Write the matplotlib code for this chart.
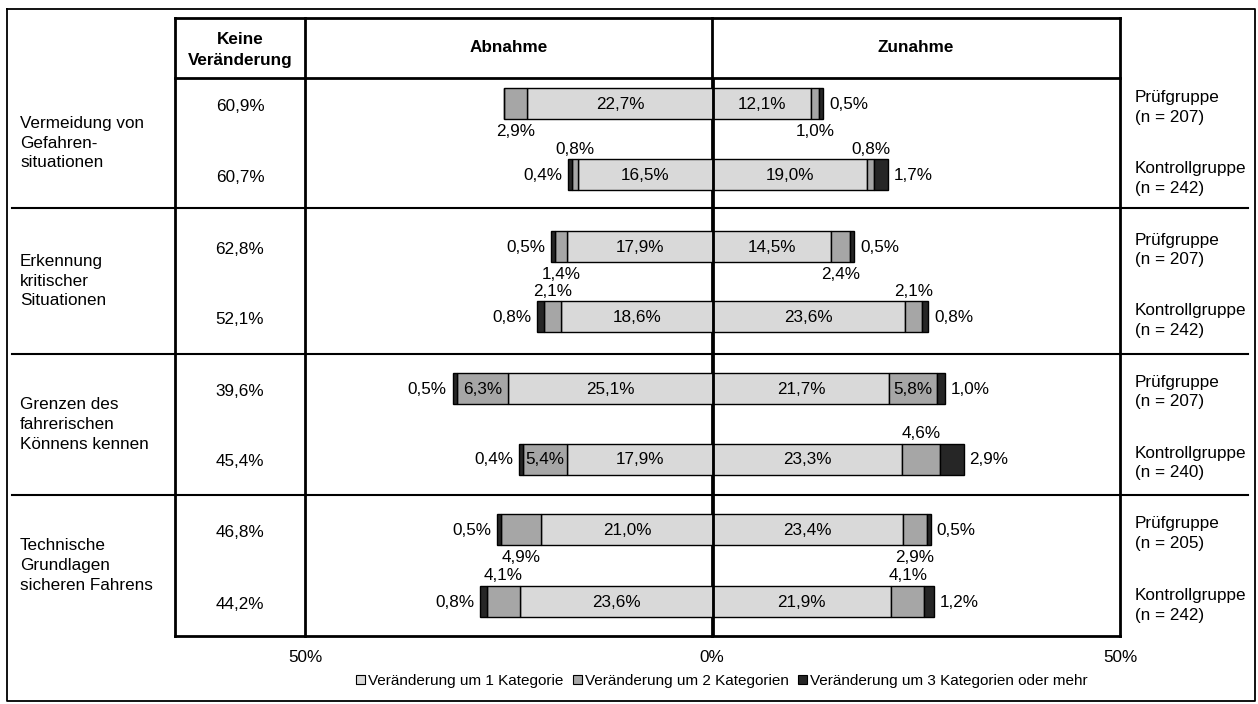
import numpy as np
import matplotlib
matplotlib.use('Agg')
import matplotlib.pyplot as plt
from matplotlib.patches import Patch

plt.rcParams['font.family'] = ['Liberation Sans', 'DejaVu Sans']

# data
topics = ['Vermeidung von\nGefahren-\nsituationen',
          'Erkennung\nkritischer\nSituationen',
          'Grenzen des\nfahrerischen\nKönnens kennen',
          'Technische\nGrundlagen\nsicheren Fahrens']
groups = ['Prüfgruppe\n(n = 207)', 'Kontrollgruppe\n(n = 242)',
          'Prüfgruppe\n(n = 207)', 'Kontrollgruppe\n(n = 242)',
          'Prüfgruppe\n(n = 207)', 'Kontrollgruppe\n(n = 240)',
          'Prüfgruppe\n(n = 205)', 'Kontrollgruppe\n(n = 242)']
keine = [60.9, 60.7, 62.8, 52.1, 39.6, 45.4, 46.8, 44.2]
# Abnahme (decrease) by 1, 2, 3+ categories
ab1 = [22.7, 16.5, 17.9, 18.6, 25.1, 17.9, 21.0, 23.6]
ab2 = [2.9, 0.8, 1.4, 2.1, 6.3, 5.4, 4.9, 4.1]
ab3 = [0.0, 0.4, 0.5, 0.8, 0.5, 0.4, 0.5, 0.8]
# Zunahme (increase) by 1, 2, 3+ categories
zu1 = [12.1, 19.0, 14.5, 23.6, 21.7, 23.3, 23.4, 21.9]
zu2 = [1.0, 0.8, 2.4, 2.1, 5.8, 4.6, 2.9, 4.1]
zu3 = [0.5, 1.7, 0.5, 0.8, 1.0, 2.9, 0.5, 1.2]
# where the 2-category label sits: 'in', 'below', 'above'
ab2_pos = ['below', 'above', 'below', 'above', 'in', 'in', 'below', 'above']
zu2_pos = ['below', 'above', 'below', 'above', 'in', 'above', 'below', 'above']
legend_labels = ['Veränderung um 1 Kategorie', 'Veränderung um 2 Kategorien',
                 'Veränderung um 3 Kategorien oder mehr']

c1, c2, c3 = '#d9d9d9', '#a6a6a6', '#262626'

def pct(v):
    return ('%.1f%%' % v).replace('.', ',')

W, H = 1258, 704
fig = plt.figure(figsize=(W / 100, H / 100), dpi=100)

# background axes in pixel coordinates for the table frame and texts
bg = fig.add_axes([0, 0, 1, 1])
bg.set_xlim(0, W)
bg.set_ylim(H, 0)
bg.axis('off')

x_k0, x_k1, x_c, x_r = 175, 305, 712, 1120
y_top, y_head, y_bot = 18, 78, 636
row_sep = [208, 354, 495]
bar_y = [103.5, 174.5, 246, 316.5, 388, 459, 529.5, 601.5]
row_top = [y_head] + row_sep
row_bot = row_sep + [y_bot]

# outer frame
bg.plot([7, 1255, 1255, 7, 7], [9, 9, 701, 701, 9], color='black', lw=1.3)
# table frame
bg.plot([x_k0, x_r], [y_top, y_top], color='black', lw=2)
bg.plot([x_k0, x_r], [y_head, y_head], color='black', lw=2)
bg.plot([x_k0, x_r], [y_bot, y_bot], color='black', lw=2)
for xv in [x_k0, x_k1, x_c, x_r]:
    bg.plot([xv, xv], [y_top, y_bot], color='black', lw=2)
for ys in row_sep:
    bg.plot([12, 1248], [ys, ys], color='black', lw=1.5)

fs = 12.3
bg.text((x_k0 + x_k1) / 2, (y_top + y_head) / 2 + 2, 'Keine\nVeränderung', ha='center',
        va='center', fontsize=fs, fontweight='bold', linespacing=1.55)
bg.text((x_k1 + x_c) / 2, 47, 'Abnahme', ha='center', va='center', fontsize=fs, fontweight='bold')
bg.text((x_c + x_r) / 2, 47, 'Zunahme', ha='center', va='center', fontsize=fs, fontweight='bold')

for i, t in enumerate(topics):
    bg.text(20, (row_top[i] + row_bot[i]) / 2, t, ha='left', va='center', fontsize=fs,
            linespacing=1.4)
for i in range(len(keine)):
    bg.text((x_k0 + x_k1) / 2, bar_y[i] + 3, pct(keine[i]), ha='center', va='center', fontsize=fs)
    bg.text(1135, bar_y[i] + 4, groups[i], ha='left', va='center', fontsize=fs, linespacing=1.4)

for xv, lab in [(x_k1, '50%'), (x_c, '0%'), (x_r, '50%')]:
    bg.text(xv, 658, lab, ha='center', va='center', fontsize=fs)

# bars axes: x in percent, y in pixel rows
ax = fig.add_axes([x_k1 / W, 1 - y_bot / H, (x_r - x_k1) / W, (y_bot - y_head) / H])
ax.set_xlim(-50, 50)
ax.set_ylim(y_bot, y_head)
ax.axis('off')

bh = 31
y = np.array(bar_y)
a1, a2, a3 = np.array(ab1), np.array(ab2), np.array(ab3)
z1, z2, z3 = np.array(zu1), np.array(zu2), np.array(zu3)
kw = dict(height=bh, edgecolor='black', linewidth=1)
ax.barh(y, -a1, left=0, color=c1, **kw)
ax.barh(y, -a2, left=-a1, color=c2, **kw)
ax.barh(y, -a3, left=-a1 - a2, color=c3, **kw)
ax.barh(y, z1, left=0, color=c1, **kw)
ax.barh(y, z2, left=z1, color=c2, **kw)
ax.barh(y, z3, left=z1 + z2, color=c3, **kw)
ax.axvline(0, color='black', lw=2)

for i in range(len(y)):
    ax.text(-a1[i] / 2, y[i] + 1, pct(a1[i]), ha='center', va='center', fontsize=fs)
    ax.text(z1[i] / 2, y[i] + 1, pct(z1[i]), ha='center', va='center', fontsize=fs)
    for val, start, pos, sgn in [(a2[i], -a1[i], ab2_pos[i], -1), (z2[i], z1[i], zu2_pos[i], 1)]:
        xc = start + sgn * val / 2
        if pos == 'in':
            ax.text(xc, y[i] + 1, pct(val), ha='center', va='center', fontsize=fs)
        elif pos == 'below':
            ax.text(xc, y[i] + bh / 2 + 13, pct(val), ha='center', va='center', fontsize=fs)
        else:
            ax.text(xc, y[i] - bh / 2 - 10, pct(val), ha='center', va='center', fontsize=fs)
    if a3[i] > 0:
        ax.text(-a1[i] - a2[i] - a3[i] - 0.7, y[i] + 1, pct(a3[i]), ha='right', va='center', fontsize=fs)
    if z3[i] > 0:
        ax.text(z1[i] + z2[i] + z3[i] + 0.7, y[i] + 1, pct(z3[i]), ha='left', va='center', fontsize=fs)

handles = [Patch(facecolor=c, edgecolor='black', linewidth=0.8) for c in [c1, c2, c3]]
fig.legend(handles, legend_labels, loc='center', bbox_to_anchor=(722 / W, 1 - 681 / H), ncol=3,
           frameon=False, fontsize=11, handlelength=0.6, handleheight=0.6, handletextpad=0.2,
           columnspacing=0.6)

fig.savefig('out.png', dpi=100)
